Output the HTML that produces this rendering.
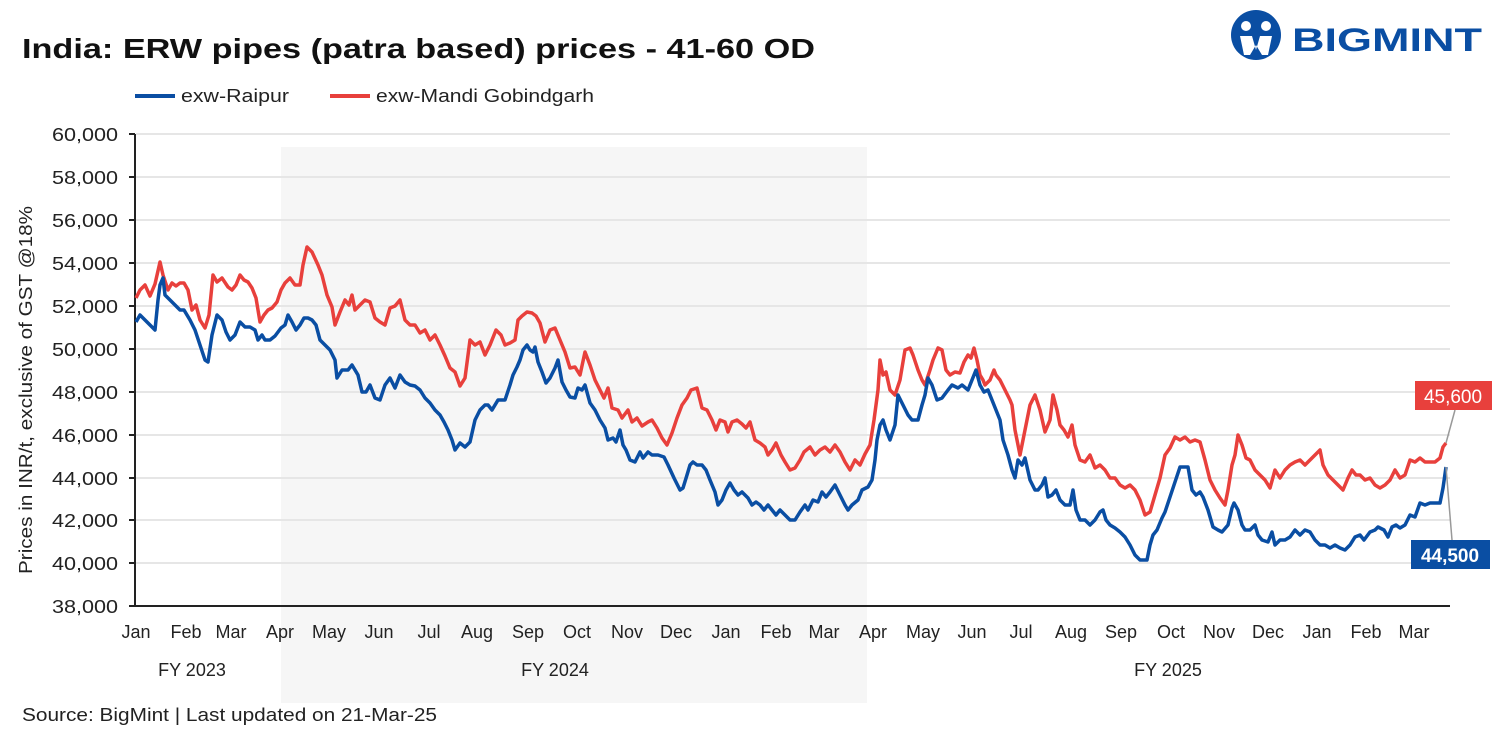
<!DOCTYPE html>
<html><head><meta charset="utf-8"><style>
html,body{margin:0;padding:0;background:#fff;}
svg text{font-family:"Liberation Sans",sans-serif;}
</style></head><body>
<svg width="1492" height="729" xmlns="http://www.w3.org/2000/svg">
<rect width="1492" height="729" fill="#fff"/>
<rect x="281" y="147" width="586" height="556" fill="#f6f6f6"/>
<text x="22" y="58" font-size="28" font-weight="bold" fill="#111" textLength="793" lengthAdjust="spacingAndGlyphs">India: ERW pipes (patra based) prices - 41-60 OD</text>
<g>
<circle cx="1256" cy="35" r="25" fill="#0a4ea3"/>
<circle cx="1246" cy="26" r="5" fill="#fff"/><circle cx="1266" cy="26" r="5" fill="#fff"/>
<path d="M1240 36 L1252 36 L1256 50 L1260 36 L1272 36 L1268 55 L1262 55 L1256 45 L1250 55 L1244 55Z" fill="#fff"/>
<text x="1292" y="51" font-size="32" font-weight="bold" fill="#0a4ea3" textLength="190" lengthAdjust="spacingAndGlyphs">BIGMINT</text>
</g>
<line x1="135" y1="96" x2="175" y2="96" stroke="#0a4ea3" stroke-width="4"/>
<text x="181" y="102" font-size="18" fill="#222" textLength="108" lengthAdjust="spacingAndGlyphs">exw-Raipur</text>
<line x1="330" y1="96" x2="370" y2="96" stroke="#e8403c" stroke-width="4"/>
<text x="376" y="102" font-size="18" fill="#222" textLength="218" lengthAdjust="spacingAndGlyphs">exw-Mandi Gobindgarh</text>
<g stroke="#e6e6e6" stroke-width="2">
<line x1="136" y1="134" x2="1450" y2="134"/><line x1="136" y1="177" x2="1450" y2="177"/><line x1="136" y1="220" x2="1450" y2="220"/><line x1="136" y1="263" x2="1450" y2="263"/><line x1="136" y1="306" x2="1450" y2="306"/><line x1="136" y1="349" x2="1450" y2="349"/><line x1="136" y1="392" x2="1450" y2="392"/><line x1="136" y1="435" x2="1450" y2="435"/><line x1="136" y1="478" x2="1450" y2="478"/><line x1="136" y1="520" x2="1450" y2="520"/><line x1="136" y1="563" x2="1450" y2="563"/>
</g>
<line x1="135" y1="134" x2="135" y2="607" stroke="#222" stroke-width="2"/>
<line x1="134" y1="606" x2="1450" y2="606" stroke="#222" stroke-width="2"/>
<g stroke="#222" stroke-width="2">
<line x1="129" y1="134" x2="135" y2="134"/><line x1="129" y1="177" x2="135" y2="177"/><line x1="129" y1="220" x2="135" y2="220"/><line x1="129" y1="263" x2="135" y2="263"/><line x1="129" y1="306" x2="135" y2="306"/><line x1="129" y1="349" x2="135" y2="349"/><line x1="129" y1="392" x2="135" y2="392"/><line x1="129" y1="435" x2="135" y2="435"/><line x1="129" y1="478" x2="135" y2="478"/><line x1="129" y1="520" x2="135" y2="520"/><line x1="129" y1="563" x2="135" y2="563"/><line x1="129" y1="606" x2="135" y2="606"/>
</g>
<g font-size="18" fill="#222">
<text x="52" y="141" textLength="66" lengthAdjust="spacingAndGlyphs">60,000</text><text x="52" y="184" textLength="66" lengthAdjust="spacingAndGlyphs">58,000</text><text x="52" y="227" textLength="66" lengthAdjust="spacingAndGlyphs">56,000</text><text x="52" y="270" textLength="66" lengthAdjust="spacingAndGlyphs">54,000</text><text x="52" y="313" textLength="66" lengthAdjust="spacingAndGlyphs">52,000</text><text x="52" y="356" textLength="66" lengthAdjust="spacingAndGlyphs">50,000</text><text x="52" y="399" textLength="66" lengthAdjust="spacingAndGlyphs">48,000</text><text x="52" y="442" textLength="66" lengthAdjust="spacingAndGlyphs">46,000</text><text x="52" y="485" textLength="66" lengthAdjust="spacingAndGlyphs">44,000</text><text x="52" y="527" textLength="66" lengthAdjust="spacingAndGlyphs">42,000</text><text x="52" y="570" textLength="66" lengthAdjust="spacingAndGlyphs">40,000</text><text x="52" y="613" textLength="66" lengthAdjust="spacingAndGlyphs">38,000</text>
</g>
<text transform="translate(32,390) rotate(-90)" font-size="18" fill="#222" text-anchor="middle" textLength="368" lengthAdjust="spacingAndGlyphs">Prices in INR/t, exclusive of GST @18%</text>
<g font-size="18" fill="#222" text-anchor="middle">
<text x="136" y="638">Jan</text><text x="186" y="638">Feb</text><text x="231" y="638">Mar</text><text x="280" y="638">Apr</text><text x="329" y="638">May</text><text x="379" y="638">Jun</text><text x="429" y="638">Jul</text><text x="477" y="638">Aug</text><text x="528" y="638">Sep</text><text x="577" y="638">Oct</text><text x="627" y="638">Nov</text><text x="676" y="638">Dec</text><text x="726" y="638">Jan</text><text x="776" y="638">Feb</text><text x="824" y="638">Mar</text><text x="873" y="638">Apr</text><text x="923" y="638">May</text><text x="972" y="638">Jun</text><text x="1021" y="638">Jul</text><text x="1071" y="638">Aug</text><text x="1121" y="638">Sep</text><text x="1171" y="638">Oct</text><text x="1219" y="638">Nov</text><text x="1268" y="638">Dec</text><text x="1317" y="638">Jan</text><text x="1366" y="638">Feb</text><text x="1414" y="638">Mar</text>
<text x="192" y="676">FY 2023</text><text x="555" y="676">FY 2024</text><text x="1168" y="676">FY 2025</text>
</g>
<text x="22" y="721" font-size="18" fill="#222" textLength="415" lengthAdjust="spacingAndGlyphs">Source: BigMint | Last updated on 21-Mar-25</text>
<polyline fill="none" stroke="#e8403c" stroke-width="3.5" stroke-linejoin="round" points="136,298 140,290 145,285 150,296 155,284 160,262 163,275 168,290 172,283 176,286 180,283 184,283 188,290 192,310 196,305 200,320 205,328 209,315 213,275 217,282 222,278 228,287 232,290 236,285 240,275 244,280 248,282 252,288 256,298 260,322 264,315 268,310 272,308 277,302 281,290 285,283 290,278 295,285 300,285 303,265 307,247 312,252 318,265 322,275 327,295 332,307 335,325 340,312 345,300 349,305 352,295 355,310 360,305 365,300 370,302 375,318 380,322 385,325 390,308 395,306 400,300 405,320 410,325 415,325 420,333 425,330 430,340 435,335 440,345 445,356 450,368 455,372 460,386 465,378 470,340 475,345 480,342 485,355 490,345 496,330 501,335 505,345 510,343 515,340 518,320 522,316 527,312 532,313 536,316 540,323 545,342 550,330 555,328 560,340 565,352 570,368 575,367 580,375 585,352 590,365 595,380 600,390 604,398 608,388 612,408 618,410 622,418 628,410 632,422 637,418 642,426 648,422 652,420 657,428 662,438 667,445 672,433 677,418 682,405 687,398 691,390 697,388 702,408 707,410 712,420 716,430 720,420 725,422 728,432 732,422 737,420 742,424 746,428 750,422 755,440 760,443 765,447 768,455 772,450 776,443 781,455 785,462 790,470 795,468 800,460 804,452 810,447 815,455 820,450 825,447 830,452 835,445 840,452 845,462 850,470 855,460 860,465 865,454 870,445 874,420 878,390 880,360 883,375 886,372 890,390 895,395 900,380 905,350 910,348 913,355 918,370 922,380 925,385 930,370 933,360 938,348 942,350 946,370 950,375 955,372 960,373 964,362 968,355 971,358 974,348 977,360 980,375 983,380 985,385 990,380 994,370 996,375 1000,380 1005,390 1010,400 1012,405 1015,430 1020,455 1025,430 1030,405 1035,395 1040,410 1045,432 1050,420 1053,395 1057,410 1060,425 1064,430 1068,437 1072,425 1075,445 1080,460 1085,462 1090,455 1095,468 1100,465 1105,470 1110,478 1115,478 1120,485 1125,488 1130,485 1135,490 1140,500 1145,515 1150,512 1155,495 1160,478 1165,455 1170,448 1175,437 1180,440 1185,437 1190,442 1195,440 1200,442 1205,460 1210,480 1215,490 1220,498 1225,505 1228,490 1232,465 1235,455 1238,435 1242,445 1246,458 1250,460 1255,470 1260,475 1265,480 1270,488 1275,470 1280,478 1285,470 1290,465 1295,462 1300,460 1305,465 1310,460 1315,455 1320,450 1323,465 1328,475 1333,480 1338,485 1343,490 1348,478 1352,470 1356,475 1360,475 1365,480 1370,478 1375,485 1380,488 1385,485 1390,480 1395,470 1400,478 1405,475 1410,460 1415,462 1420,458 1425,462 1430,462 1435,462 1440,458 1443,447 1446,443"/>
<polyline fill="none" stroke="#0a4ea3" stroke-width="3.5" stroke-linejoin="round" points="136,322 140,315 145,320 150,325 155,330 158,300 160,285 163,278 165,295 170,300 175,305 180,310 184,310 190,320 195,330 200,345 205,360 208,362 212,335 217,315 222,320 226,332 230,340 235,335 240,322 245,327 250,327 255,330 258,340 262,335 265,340 270,340 275,336 281,328 285,325 288,315 292,322 296,330 300,325 304,318 308,318 312,320 316,325 320,340 325,345 330,350 335,360 337,378 342,370 348,370 352,365 358,375 362,392 366,392 370,385 375,398 380,400 385,385 390,378 395,388 400,375 405,382 410,385 415,386 420,390 425,398 430,403 435,410 440,415 444,422 448,430 452,440 455,450 460,443 465,447 470,442 475,420 480,410 485,405 488,405 492,410 498,400 505,400 510,385 513,375 517,367 520,360 523,350 527,345 530,350 533,352 535,347 538,362 542,372 546,383 550,378 555,368 558,360 562,382 566,390 570,397 575,398 578,388 582,390 585,385 590,403 595,410 600,420 605,428 608,440 613,438 616,442 620,430 623,445 626,450 630,460 635,462 640,452 643,458 648,452 652,455 658,455 664,457 668,465 674,478 680,490 683,488 687,475 690,465 693,462 697,465 702,465 706,470 710,480 715,492 718,505 722,500 726,490 730,483 734,490 738,495 742,492 748,498 752,505 756,502 760,505 764,510 768,505 772,510 776,515 780,510 785,515 790,520 795,520 800,512 805,505 808,510 813,500 818,502 822,492 826,497 830,492 835,485 840,495 845,505 848,510 852,505 858,500 862,490 868,487 872,480 875,460 877,440 880,425 883,420 886,430 890,440 895,425 898,395 903,405 908,415 912,420 918,420 922,405 925,395 928,378 932,385 937,400 942,398 948,390 952,385 958,388 962,385 968,390 972,380 976,370 980,385 984,392 988,390 992,400 996,410 1000,420 1003,440 1008,455 1012,470 1015,478 1018,460 1022,465 1025,458 1030,480 1035,490 1038,490 1042,485 1045,478 1048,497 1052,495 1056,490 1060,500 1065,505 1070,505 1073,490 1076,510 1080,520 1085,520 1090,525 1095,520 1100,512 1103,510 1106,520 1110,525 1115,528 1120,532 1125,537 1130,545 1135,555 1140,560 1147,560 1150,545 1153,535 1157,530 1162,518 1165,512 1170,497 1175,482 1180,467 1185,467 1188,467 1192,490 1196,495 1200,492 1203,497 1208,510 1213,527 1218,530 1222,532 1228,525 1232,508 1234,503 1238,510 1242,525 1245,530 1250,530 1255,525 1258,535 1262,540 1268,542 1272,532 1275,545 1280,540 1285,540 1290,537 1295,530 1300,535 1305,530 1310,532 1315,540 1320,545 1325,545 1330,548 1335,545 1340,548 1345,550 1350,545 1355,537 1360,535 1364,540 1370,532 1375,530 1378,527 1384,530 1388,537 1392,527 1396,525 1400,528 1405,525 1410,515 1415,517 1420,503 1425,505 1430,503 1435,503 1440,503 1443,488 1446,467"/>
<line x1="1446" y1="443" x2="1455" y2="410" stroke="#999" stroke-width="1.5"/>
<line x1="1446" y1="467" x2="1452" y2="540" stroke="#999" stroke-width="1.5"/>
<rect x="1415" y="381" width="77" height="29" fill="#e8403c"/>
<text x="1453" y="403" font-size="19" fill="#fff" text-anchor="middle">45,600</text>
<rect x="1411" y="540" width="79" height="29" fill="#0a4ea3"/>
<text x="1450" y="562" font-size="19" fill="#fff" text-anchor="middle" font-weight="bold">44,500</text>
</svg>
</body></html>
